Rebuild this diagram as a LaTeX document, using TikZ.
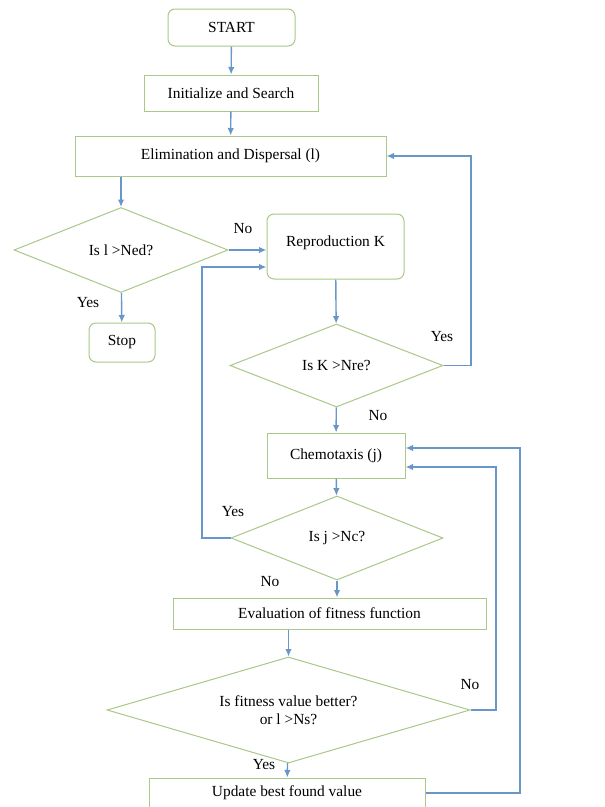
\documentclass[tikz,border=0pt]{standalone}
\usepackage{fontspec}
\setmainfont{Liberation Serif}
\usetikzlibrary{shapes.geometric,arrows.meta}
\definecolor{boxgreen}{RGB}{170,200,135}
\definecolor{flowblue}{RGB}{105,150,200}
\tikzset{%
  stepbox/.style={draw=boxgreen, line width=1pt, fill=white, inner sep=0pt, align=center, text=black},%
  roundbox/.style={stepbox, rounded corners=7pt},%
  test/.style={stepbox, shape=diamond, aspect=2.5},%
  flow/.style={draw=flowblue, line width=1.4pt, -{Latex[length=7.5pt,width=6.5pt]}},%
  answer/.style={text=black, inner sep=0pt}%
}
\begin{document}
\begin{tikzpicture}[x=1pt,y=-1pt,font=\fontsize{15.4}{18}\selectfont]%
\useasboundingbox (0,0) rectangle (605,807);%
%
\def\kloopx{471};%
\def\jloopx{202};%
\def\fitloopx{496};%
\def\uploopx{520};%
%
\node[roundbox, minimum width=127pt, minimum height=37pt] (start) at (231.5,27.5) {START};%
\node[stepbox, minimum width=174pt, minimum height=36pt] (init) at (231,93) {Initialize and Search};%
\node[stepbox, minimum width=311pt, minimum height=40pt] (elim) at (230.5,156) {Elimination and Dispersal (l)};%
\node[test, minimum width=214pt, minimum height=85pt] (ned) at (121,250) {Is l >Ned?};%
\node[roundbox, minimum width=137pt, minimum height=65pt] (repro) at (335.5,246.5) {\raisebox{11pt}{Reproduction K}};%
\node[roundbox, minimum width=66pt, minimum height=39pt] (stop) at (122,342.5) {Stop};%
\node[test, minimum width=213pt, minimum height=83pt] (nre) at (336.5,365.5) {Is K >Nre?};%
\node[stepbox, minimum width=138pt, minimum height=45pt] (chemo) at (336,455.5) {Chemotaxis (j)};%
\node[test, minimum width=212pt, minimum height=84pt] (nc) at (337,538) {Is j >Nc?};%
\node[stepbox, minimum width=313pt, minimum height=31pt] (eval) at (329.5,613.5) {Evaluation of fitness function};%
\node[test, aspect=3.4, minimum width=363pt, minimum height=106pt] (fit) at (288.5,710) {Is fitness value better?\\or l >Ns?};%
\node[stepbox, minimum width=276pt, minimum height=30pt] (update) at (287,793) {Update best found value};%
%
\node[answer] (nedno) at (243,229) {No};%
\node[answer] (nedyes) at (88,303) {Yes};%
\node[answer] (nreyes) at (442,337) {Yes};%
\node[answer] (nreno) at (378,416) {No};%
\node[answer] (ncyes) at (233,512) {Yes};%
\node[answer] (ncno) at (270,582) {No};%
\node[answer] (fitno) at (470,685) {No};%
\node[answer] (fityes) at (264,765) {Yes};%
%
\coordinate (kloop) at (\kloopx,365.5);%
\coordinate (jloop) at (\jloopx,538);%
\coordinate (fitloop) at (\fitloopx,710);%
\coordinate (uploop) at (\uploopx,793);%
%
\draw[flow] (start) -- (init);%
\draw[flow] (init) -- (elim);%
\draw[flow] (ned.north |- elim.south) -- (ned.north);%
\draw[flow] (ned.east) -- (ned.east -| repro.west);%
\draw[flow] (ned) -- (stop);%
\draw[flow] (repro) -- (nre);%
\draw[flow] (nre.east) -- (kloop) |- (elim.east);%
\draw[flow] (nre) -- (chemo);%
\draw[flow] (chemo) -- (nc);%
\draw[flow] (nc.west) -- (jloop) |- ([yshift=-20.5pt]repro.west);%
\draw[flow] (nc.south) -- (nc.south |- eval.north);%
\draw[flow] (fit.north |- eval.south) -- (fit.north);%
\draw[flow] (fit.east) -- (fitloop) |- ([yshift=-11.5pt]chemo.east);%
\draw[flow] (fit) -- (update);%
\draw[flow] (update.east) -- (uploop) |- ([yshift=7.5pt]chemo.east);%
%
\end{tikzpicture}
\end{document}
